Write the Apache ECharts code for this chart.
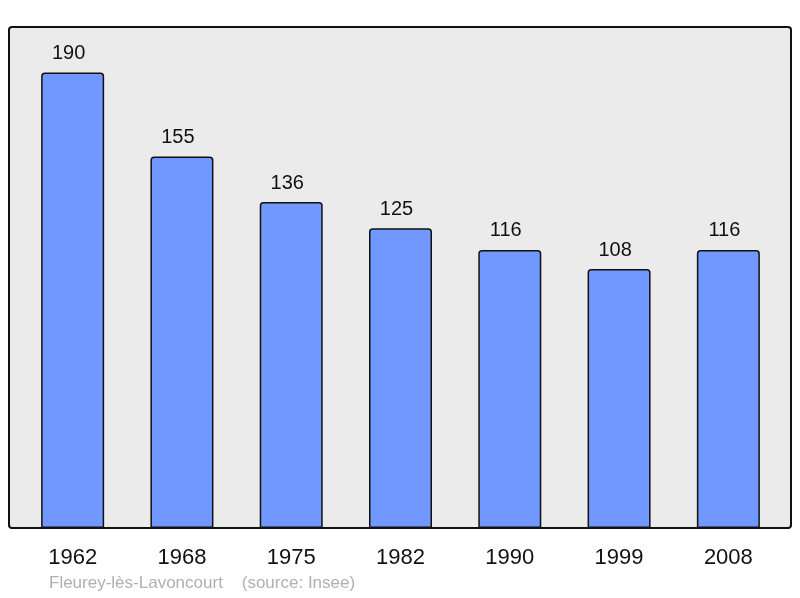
<!DOCTYPE html>
<html>
<head>
<meta charset="utf-8">
<script src="https://cdn.jsdelivr.net/npm/echarts@6/dist/echarts.min.js"></script>
<style>
html, body { margin: 0; padding: 0; background: #fff; }
#chart { width: 800px; height: 598px; }
</style>
</head>
<body>
<div id="chart"></div>
<script>
const years = ['1962', '1968', '1975', '1982', '1990', '1999', '2008'];
const population = [190, 155, 136, 125, 116, 108, 116];
const footer = 'Fleurey-lès-Lavoncourt    (source: Insee)';

const chart = echarts.init(document.getElementById('chart'));
chart.setOption({
    animation: false,
    textStyle: { fontFamily: 'Liberation Sans, Arial, sans-serif' },
    graphic: [
        {
            type: 'rect',
            z: -10,
            shape: { x: 9, y: 27, width: 782, height: 501, r: 3 },
            style: { fill: '#ebebeb', stroke: '#111', lineWidth: 2 }
        },
        {
            type: 'text',
            left: 49,
            top: 575,
            style: { text: footer, fill: '#b0b0b0', fontSize: 17, fontFamily: 'Liberation Sans, Arial, sans-serif' }
        }
    ],
    grid: { left: 18, top: 27, width: 765, height: 501 },
    xAxis: {
        type: 'category',
        data: years,
        axisLine: { show: false },
        axisTick: { show: false },
        axisLabel: { color: '#111', fontSize: 22, margin: 19 }
    },
    yAxis: {
        type: 'value',
        min: 0,
        max: 209,
        show: false,
        splitLine: { show: false }
    },
    series: [
        {
            type: 'bar',
            data: population,
            barWidth: 63,
            itemStyle: {
                color: '#7098ff',
                borderColor: '#111',
                borderWidth: 1.5,
                borderRadius: [3, 3, 0, 0]
            },
            label: {
                show: true,
                position: 'top',
                distance: 9,
                offset: [-4, 0],
                color: '#111',
                fontSize: 20
            }
        }
    ]
});
</script>
</body>
</html>
